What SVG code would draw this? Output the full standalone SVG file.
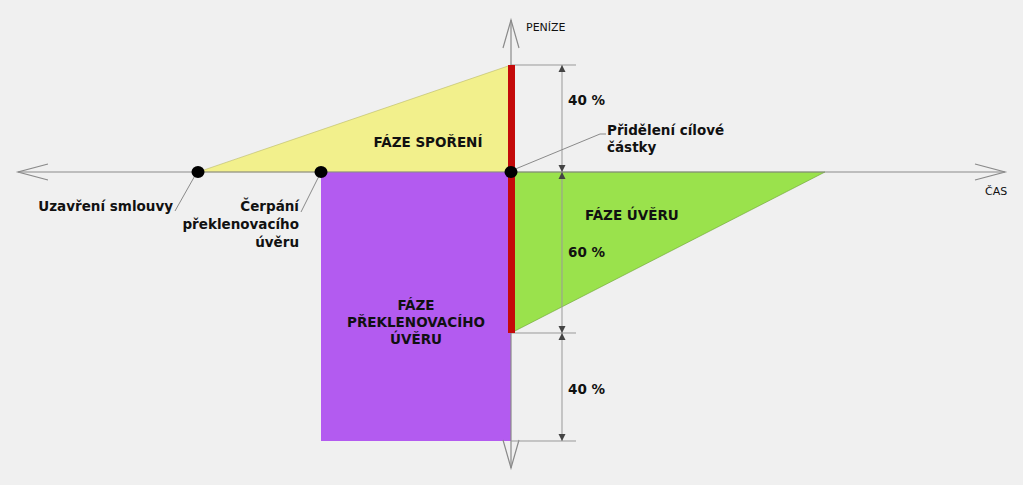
<svg xmlns="http://www.w3.org/2000/svg" width="1023" height="485" viewBox="0 0 1023 485">
<style>
.b{font-family:"DejaVu Sans","Liberation Sans",sans-serif;font-weight:bold;font-size:13.5px;fill:#111}
.n{font-family:"DejaVu Sans","Liberation Sans",sans-serif;font-size:11px;fill:#111}
.ax{stroke:#8a8a8a;stroke-width:1.2;fill:none}
.dim{stroke:#999;stroke-width:1;fill:none}
.ld{stroke:#8a8a8a;stroke-width:1;fill:none}
</style>
<defs>
<marker id="ah" viewBox="0 0 10 10" refX="10" refY="5" markerWidth="7" markerHeight="9" orient="auto" markerUnits="userSpaceOnUse">
<path d="M0,0 L10,5 L0,10 z" fill="#444"/>
</marker>
</defs>
<rect width="1023" height="485" fill="#f0f0f0"/>
<g id="faze-sporeni">
<polygon points="198,172 511,65 511,172" fill="#f2f08c" stroke="#b8b86a" stroke-width="0.6"/>
<text class="b" x="428" y="147" text-anchor="middle">FÁZE SPOŘENÍ</text>
</g>
<g id="faze-preklenovaciho">
<rect x="321" y="172" width="190" height="269" fill="#b35bf0"/>
<text class="b" x="416" y="310" text-anchor="middle">FÁZE</text>
<text class="b" x="416" y="327" text-anchor="middle">PŘEKLENOVACÍHO</text>
<text class="b" x="416" y="344" text-anchor="middle">ÚVĚRU</text>
</g>
<g id="faze-uveru">
<polygon points="511,172 825,172 511,333" fill="#9ae24c" stroke="#6aa030" stroke-width="0.6"/>
<text class="b" x="585" y="220">FÁZE ÚVĚRU</text>
</g>
<g id="connectors">
<line class="ax" x1="18" y1="172" x2="1005" y2="172"/>
<polyline class="ax" points="48,164 18,172 48,180"/>
<polyline class="ax" points="975,164 1005,172 975,180"/>
<line class="ax" x1="511" y1="20" x2="511" y2="468"/>
<polyline class="ax" points="503,48 511,20 519,48"/>
<polyline class="ax" points="503,440 511,468 519,440"/>
<line class="dim" x1="511" y1="65" x2="576" y2="65"/>
<line class="dim" x1="511" y1="333" x2="576" y2="333"/>
<line class="dim" x1="511" y1="441" x2="576" y2="441"/>
<line class="dim" x1="562" y1="118" x2="562" y2="65" marker-end="url(#ah)"/>
<line class="dim" x1="562" y1="118" x2="562" y2="172" marker-end="url(#ah)"/>
<line class="dim" x1="562" y1="250" x2="562" y2="172" marker-end="url(#ah)"/>
<line class="dim" x1="562" y1="250" x2="562" y2="333" marker-end="url(#ah)"/>
<line class="dim" x1="562" y1="390" x2="562" y2="333" marker-end="url(#ah)"/>
<line class="dim" x1="562" y1="390" x2="562" y2="441" marker-end="url(#ah)"/>
<line class="ld" x1="197" y1="172" x2="175" y2="211"/>
<line class="ld" x1="321" y1="172" x2="301" y2="212"/>
<polyline class="ld" points="513,170 600,134 606,134"/>
</g>
<g id="red-bar">
<rect x="508" y="65" width="7" height="268" fill="#c40a0a"/>
</g>
<g id="points">
<ellipse cx="198" cy="172" rx="6.5" ry="6" fill="#000"/>
<ellipse cx="321" cy="172" rx="6.5" ry="6" fill="#000"/>
<ellipse cx="511" cy="172" rx="6.5" ry="6" fill="#000"/>
</g>
<g id="labels">
<text class="n" x="526" y="31">PENÍZE</text>
<text class="n" x="985" y="195">ČAS</text>
<text class="b" x="568" y="105">40 %</text>
<text class="b" x="568" y="257">60 %</text>
<text class="b" x="568" y="394">40 %</text>
<text class="b" x="173" y="211" text-anchor="end">Uzavření smlouvy</text>
<text class="b" x="299" y="211" text-anchor="end">Čerpání</text>
<text class="b" x="299" y="229" text-anchor="end">překlenovacího</text>
<text class="b" x="299" y="247" text-anchor="end">úvěru</text>
<text class="b" x="607" y="135">Přidělení cílové</text>
<text class="b" x="607" y="152">částky</text>
</g>
</svg>
